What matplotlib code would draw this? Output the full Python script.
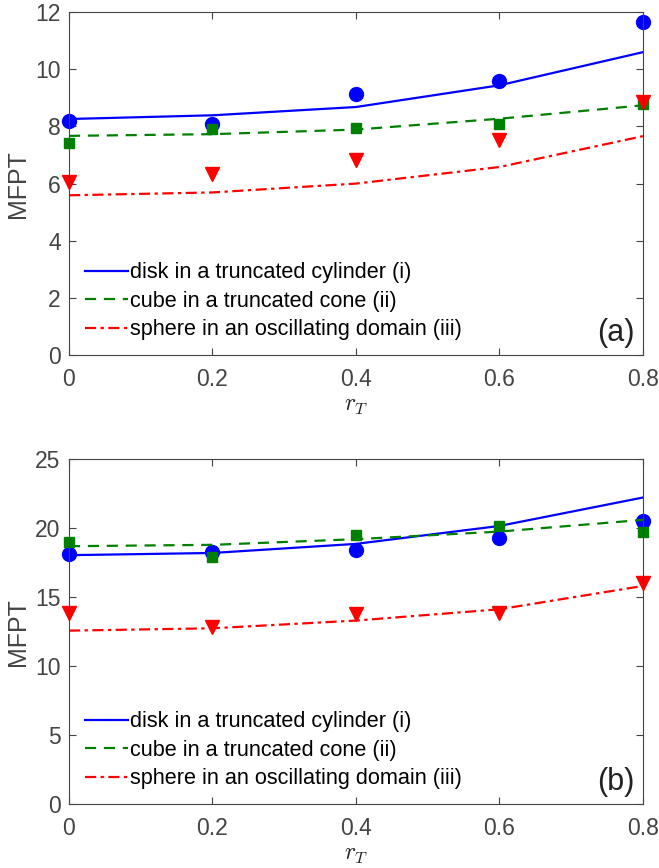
import matplotlib
matplotlib.use('Agg')
import matplotlib.pyplot as plt
import numpy as np

plt.rcParams['font.family'] = ['Liberation Sans', 'DejaVu Sans']
plt.rcParams['mathtext.fontset'] = 'cm'

r_T = [0, 0.2, 0.4, 0.6, 0.8]
labels = ['disk in a truncated cylinder (i)',
          'cube in a truncated cone (ii)',
          'sphere in an oscillating domain (iii)']

# panel (a)
a_disk_line = [8.26, 8.39, 8.68, 9.44, 10.6]
a_disk_pts = [8.19, 8.08, 9.15, 9.59, 11.65]
a_cube_line = [7.67, 7.73, 7.89, 8.27, 8.74]
a_cube_pts = [7.42, 7.92, 7.95, 8.08, 8.78]
a_sph_line = [5.59, 5.69, 6.0, 6.58, 7.66]
a_sph_pts = [6.06, 6.35, 6.84, 7.54, 8.86]

# panel (b)
b_disk_line = [18.04, 18.2, 18.86, 20.16, 22.22]
b_disk_pts = [18.11, 18.25, 18.38, 19.25, 20.55]
b_cube_line = [18.69, 18.79, 19.2, 19.75, 20.6]
b_cube_pts = [18.96, 17.94, 19.51, 20.12, 19.75]
b_sph_line = [12.57, 12.74, 13.3, 14.12, 15.81]
b_sph_pts = [13.83, 12.86, 13.76, 13.88, 16.05]

gray = '#444444'
blue = (0, 0, 1)
green = (0, 0.5, 0)
red = (1, 0, 0)


def panel(ax, lines, pts, ymax, yticks, tag):
    styles = [('-', blue, 'o', 10), ((0, (5, 3.5)), green, 's', 7), ((0, (5, 2, 1.5, 2)), red, 'v', 10.5)]
    for (ls, c, m, ms), yl, yp, lab in zip(styles, lines, pts, labels):
        ax.plot(r_T, yl, linestyle=ls, color=c, lw=1.6, label=lab)
        ax.plot(r_T, yp, linestyle='none', marker=m, color=c, ms=ms, clip_on=False)
    ax.set_xlim(0, 0.8)
    ax.set_ylim(0, ymax)
    ax.set_xticks([0, 0.2, 0.4, 0.6, 0.8])
    ax.set_xticklabels(['0', '0.2', '0.4', '0.6', '0.8'])
    ax.set_yticks(yticks)
    ax.tick_params(direction='in', top=True, right=True, labelsize=16.5, colors=gray,
                   length=5, width=0.8)
    ax.tick_params(axis='x', pad=9)
    ax.tick_params(axis='y', pad=6)
    for s in ax.spines.values():
        s.set_color(gray)
        s.set_linewidth(0.8)
    ax.set_ylabel('MFPT', fontsize=18, color=gray, labelpad=4)
    ax.set_xlabel('$r_T$', fontsize=17, color='#222222', labelpad=3)
    ax.legend(loc='lower left', bbox_to_anchor=(0.005, 0.005), frameon=False, fontsize=15.6,
              handlelength=2.0, handletextpad=0.1, labelspacing=0.35, borderaxespad=0.3,
              borderpad=0.3)
    ax.text(0.985, 0.02, tag, transform=ax.transAxes, ha='right', va='bottom',
            fontsize=22, color='#222222')


fig = plt.figure(figsize=(6.59, 8.68), dpi=100)
ax1 = fig.add_axes([0.1047, 0.591, 0.871, 0.395])
ax2 = fig.add_axes([0.1047, 0.0737, 0.871, 0.3973])

panel(ax1, [a_disk_line, a_cube_line, a_sph_line], [a_disk_pts, a_cube_pts, a_sph_pts],
      12, [0, 2, 4, 6, 8, 10, 12], '(a)')
panel(ax2, [b_disk_line, b_cube_line, b_sph_line], [b_disk_pts, b_cube_pts, b_sph_pts],
      25, [0, 5, 10, 15, 20, 25], '(b)')

fig.savefig('out.png', dpi=100)
